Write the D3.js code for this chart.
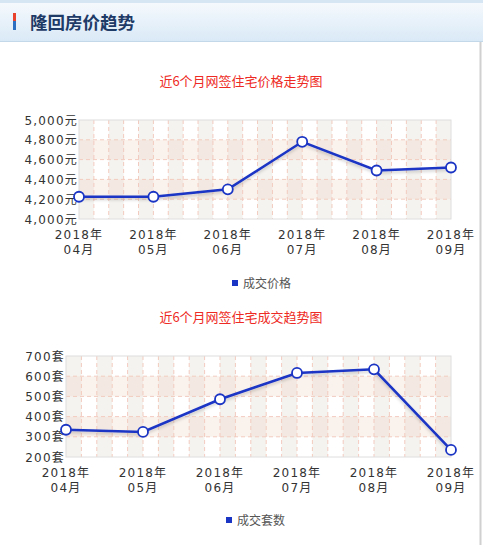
<!DOCTYPE html>
<html>
<head>
<meta charset="utf-8">
<script src="https://cdn.jsdelivr.net/npm/d3@7"></script>
<style>
  body { margin: 0; background: #fff; }
  text { font-family: Verdana, "DejaVu Sans", "Noto Sans CJK SC", sans-serif; }
</style>
</head>
<body>
<div id="chart"></div>
<script>
const months = ["04", "05", "06", "07", "08", "09"];
const priceValues = [4225, 4225, 4300, 4780, 4490, 4520];
const priceTicks = [4000, 4200, 4400, 4600, 4800, 5000];
const volumeValues = [335, 324, 486, 616, 634, 235];
const volumeTicks = [200, 300, 400, 500, 600, 700];

const width = 483, height = 545;
const svg = d3.select("#chart").append("svg").attr("width", width).attr("height", height);

const defs = svg.append("defs");
const grad = defs.append("linearGradient").attr("id", "hdr").attr("x1", 0).attr("y1", 0).attr("x2", 0).attr("y2", 1);
grad.append("stop").attr("offset", "0%").attr("stop-color", "#f5f9fd");
grad.append("stop").attr("offset", "100%").attr("stop-color", "#d9e9f6");
const shadow = defs.append("filter").attr("id", "shd").attr("x", "-10%").attr("y", "-10%").attr("width", "120%").attr("height", "140%");
shadow.append("feDropShadow").attr("dx", 0).attr("dy", 2).attr("stdDeviation", 1.5).attr("flood-color", "#000").attr("flood-opacity", 0.18);

// header
svg.append("rect").attr("x", 0).attr("y", 0).attr("width", width).attr("height", 3).attr("fill", "#d6e7f3");
svg.append("rect").attr("x", 0).attr("y", 3).attr("width", width).attr("height", 39).attr("fill", "url(#hdr)");
svg.append("line").attr("x1", 0).attr("x2", width).attr("y1", 41.5).attr("y2", 41.5).attr("stroke", "#c3d9ea");
svg.append("rect").attr("x", 13).attr("y", 13).attr("width", 3).attr("height", 8).attr("fill", "#e8412c");
svg.append("rect").attr("x", 13).attr("y", 21).attr("width", 3).attr("height", 9).attr("fill", "#2c6fc0");
svg.append("text").attr("x", 30).attr("y", 28.5).attr("font-size", 17.5).attr("font-weight", "bold")
  .attr("fill", "#1e3a66").style("font-family", "'Noto Sans CJK SC', sans-serif").text("隆回房价趋势");
// right border
svg.append("line").attr("x1", 480.5).attr("x2", 480.5).attr("y1", 42).attr("y2", height).attr("stroke", "#d0d0d0").attr("stroke-width", 2);

function drawChart(opt) {
  const g = svg.append("g");
  const x = d3.scalePoint().domain(months).range([opt.left, opt.right]);
  const y = d3.scaleLinear().domain([opt.ticks[0], opt.ticks[opt.ticks.length - 1]]).range([opt.bottom, opt.top]);
  const step = x.step();

  g.append("text").attr("x", 241).attr("y", opt.titleY).attr("text-anchor", "middle")
    .attr("font-size", 13).attr("fill", "#ee2a24").style("font-family", "'Noto Sans CJK SC', sans-serif").text(opt.title);

  // alternating vertical columns
  const cols = d3.range((months.length - 1) * 5);
  g.selectAll(".col").data(cols.filter(i => i % 2 === 0)).enter().append("rect")
    .attr("x", i => opt.left + i * step / 5).attr("y", opt.top)
    .attr("width", step / 5).attr("height", opt.bottom - opt.top).attr("fill", "#f5f3f0");
  // alternating horizontal bands
  const bands = d3.range(opt.ticks.length - 1).filter(i => i % 2 === 1);
  g.selectAll(".band").data(bands).enter().append("rect")
    .attr("x", opt.left).attr("y", i => y(opt.ticks[i + 1]))
    .attr("width", opt.right - opt.left).attr("height", i => y(opt.ticks[i]) - y(opt.ticks[i + 1]))
    .attr("fill", "#eed3c4").attr("opacity", 0.3);

  // grid
  g.selectAll(".vg").data(cols.slice(1)).enter().append("line")
    .attr("x1", i => opt.left + i * step / 5).attr("x2", i => opt.left + i * step / 5)
    .attr("y1", opt.top).attr("y2", opt.bottom)
    .attr("stroke", "#f2cbbf").attr("stroke-dasharray", "4,3");
  g.selectAll(".hg").data(opt.ticks.slice(1, -1)).enter().append("line")
    .attr("x1", opt.left).attr("x2", opt.right).attr("y1", d => y(d)).attr("y2", d => y(d))
    .attr("stroke", "#f2cbbf").attr("stroke-dasharray", "4,3");
  g.append("rect").attr("x", opt.left).attr("y", opt.top).attr("width", opt.right - opt.left)
    .attr("height", opt.bottom - opt.top).attr("fill", "none").attr("stroke", "#dedede");

  // y labels
  g.selectAll(".yl").data(opt.ticks).enter().append("text")
    .attr("x", opt.left - 1).attr("y", d => y(d) + 4.5).attr("text-anchor", "end")
    .attr("font-size", 12).attr("letter-spacing", 1.2).attr("fill", "#333").text(d => opt.fmt(d));

  // x labels
  const xl = g.selectAll(".xl").data(months).enter().append("text")
    .attr("x", d => x(d)).attr("y", opt.bottom + 20).attr("text-anchor", "middle")
    .attr("font-size", 12).attr("letter-spacing", 1.2).attr("fill", "#333");
  xl.append("tspan").attr("x", d => x(d)).text("2018年");
  xl.append("tspan").attr("x", d => x(d)).attr("dy", 15).text(d => d + "月");

  // line
  const line = d3.line().x((d, i) => x(months[i])).y(d => y(d));
  g.append("path").datum(opt.values).attr("d", line).attr("fill", "none")
    .attr("stroke", "#1a34c4").attr("stroke-width", 2.5).attr("filter", "url(#shd)");
  g.selectAll(".pt").data(opt.values).enter().append("circle")
    .attr("cx", (d, i) => x(months[i])).attr("cy", d => y(d)).attr("r", 5)
    .attr("fill", "#fff").attr("stroke", "#1a34c4").attr("stroke-width", 1.8);

  // legend
  g.append("rect").attr("x", opt.legendX).attr("y", opt.legendY - 3).attr("width", 6).attr("height", 6).attr("fill", "#1a34c4");
  g.append("text").attr("x", opt.legendX + 11).attr("y", opt.legendY + 4.5).attr("font-size", 12)
    .attr("fill", "#555").style("font-family", "'Noto Sans CJK SC', sans-serif").text(opt.legend);
}

drawChart({
  title: "近6个月网签住宅价格走势图", titleY: 86,
  left: 79, right: 451, top: 120, bottom: 219,
  ticks: priceTicks, values: priceValues,
  fmt: d => d3.format(",")(d) + "元",
  legend: "成交价格", legendX: 232, legendY: 283
});

drawChart({
  title: "近6个月网签住宅成交趋势图", titleY: 322,
  left: 66, right: 451, top: 356, bottom: 457,
  ticks: volumeTicks, values: volumeValues,
  fmt: d => d + "套",
  legend: "成交套数", legendX: 226, legendY: 520
});
</script>
</body>
</html>
